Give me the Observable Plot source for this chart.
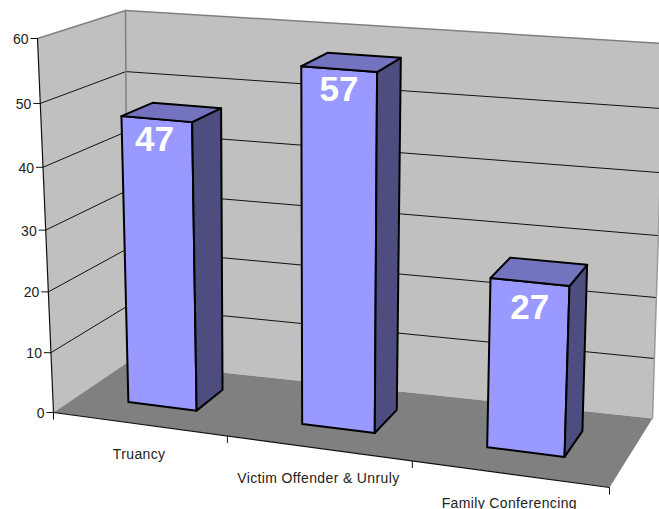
<!DOCTYPE html>
<html><head><meta charset="utf-8">
<style>html,body{margin:0;padding:0;background:#fff;overflow:hidden}svg{display:block}.cat text,text.cat{letter-spacing:.36px}</style>
<script src="https://cdn.jsdelivr.net/npm/d3@7"></script>
<script src="https://cdn.jsdelivr.net/npm/@observablehq/plot@0.6"></script>
</head><body><div id="chart"></div>
<script>
const categories = ["Truancy", "Victim Offender & Unruly", "Family Conferencing"];
const values = [47, 57, 27];
const valueTicks = [0, 10, 20, 30, 40, 50, 60];
const valueMax = 60;

// Perspective box: [u across, d depth, h height]
const corners = {
  f0l:[53,412], f1l:[37,38], b0l:[127,362], b1l:[125,10],
  f0r:[609,487], f1r:[624,85], b0r:[652,418], b1r:[664,43]
};
const warp = (t,k)=>k*t/(1+(k-1)*t);
const mix = (a,b,t)=>[a[0]+(b[0]-a[0])*t, a[1]+(b[1]-a[1])*t];
function project(u,d,v){
  const U=warp(u,0.91), D=warp(d,1), H=warp(v/valueMax,0.952);
  const c=corners;
  const f0=mix(c.f0l,c.f0r,U), f1=mix(c.f1l,c.f1r,U), b0=mix(c.b0l,c.b0r,U), b1=mix(c.b1l,c.b1r,U);
  const p=mix(mix(f0,b0,D),mix(f1,b1,D),H);
  return {x:p[0],y:p[1]};
}
const poly=(pts,fill,stroke,sw)=>Plot.line(pts,{x:"x",y:"y",fill,stroke:stroke||"none",strokeWidth:sw||1,curve:"linear-closed",strokeLinejoin:"round"});
const seg=(a,b,stroke,sw)=>Plot.line([a,b],{x:"x",y:"y",stroke,strokeWidth:sw});

const n=categories.length, gap=0.3, d0=0.335, d1=0.72;
const marks=[];
// walls and floor
marks.push(poly([project(0,0,0),project(0,0,valueMax),project(0,1,valueMax),project(0,1,0)],"#C0C0C0"));
marks.push(poly([project(0,1,0),project(0,1,valueMax),project(1,1,valueMax),project(1,1,0)],"#C0C0C0"));
marks.push(poly([project(0,0,0),project(0,1,0),project(1,1,0),project(1,0,0)],"#808080"));
// gridlines
for(const v of valueTicks.slice(1,-1)){
  marks.push(seg(project(0,0,v),project(0,1,v),"#111",1));
  marks.push(seg(project(0,1,v),project(1,1,v),"#111",1));
}
// wall edges
marks.push(seg(project(0,0,valueMax),project(0,1,valueMax),"#808080",1.5));
marks.push(seg(project(0,1,valueMax),project(1,1,valueMax),"#808080",1.5));
marks.push(seg(project(0,1,0),project(0,1,valueMax),"#808080",1.5));
marks.push(seg(project(1,1,0),project(1,1,valueMax),"#9a9a9a",1.5));
// axis lines
marks.push(seg(project(0,0,0),project(0,0,valueMax),"#111",1.2));
marks.push(seg(project(0,0,0),project(1,0,0),"#111",1.2));
// ticks
const tick=valueTicks.map(v=>{const p=project(0,0,v);return {x1:p.x-7,x2:p.x,y:p.y,label:String(v)};});
marks.push(Plot.link(tick,{x1:"x1",x2:"x2",y1:"y",y2:"y",stroke:"#111",strokeWidth:1}));
marks.push(Plot.text(tick,{x:"x1",y:"y",text:"label",textAnchor:"end",dx:-2,dy:1,fontSize:14,fill:"#222",fontFamily:"Liberation Sans"}));
const xt=d3.range(n+1).map(i=>{const p=project(i/n,0,0);return {x:p.x,y1:p.y,y2:p.y+7};});
marks.push(Plot.link(xt,{x1:"x",x2:"x",y1:"y1",y2:"y2",stroke:"#111",strokeWidth:1}));
// category labels
const catLab=categories.map((c,i)=>{const p=project((i+0.5)/n,0,0);return {x:p.x,y:p.y+30,text:c};});
marks.push(Plot.text(catLab,{x:"x",y:"y",text:"text",fontSize:14,fill:"#222",fontFamily:"Liberation Sans",className:"cat"}));
// bars
values.forEach((v,i)=>{
  const a=(i+gap)/n*1, b=(i+1-gap)/n;
  const F0a=project(a,d0,0),F0b=project(b,d0,0),B0b=project(b,d1,0);
  const F1a=project(a,d0,v),F1b=project(b,d0,v),B1b=project(b,d1,v),B1a=project(a,d1,v);
  marks.push(poly([F0a,F0b,F1b,F1a],"#9999FF","#000",2));
  marks.push(poly([F0b,B0b,B1b,F1b],"#4D4D80","#000",2));
  marks.push(poly([F1a,F1b,B1b,B1a],"#7373BF","#000",2));
});
// value labels, nudged inside each bar's front face
const labelNudge=[[-2,21],[0,21],[0,26]];
const valLab=values.map((v,i)=>{const p=project((i+0.5)/n,d0,v);return {x:p.x+labelNudge[i][0],y:p.y+labelNudge[i][1],text:String(v)};});
marks.push(Plot.text(valLab,{x:"x",y:"y",text:"text",fontSize:35,fontWeight:"bold",fill:"#fff",fontFamily:"Liberation Sans"}));

const chart=Plot.plot({width:659,height:509,margin:0,
  x:{domain:[0,659],range:[0,659],axis:null},
  y:{domain:[0,509],range:[0,509],axis:null},
  marks});
document.getElementById("chart").appendChild(chart);
</script></body></html>
